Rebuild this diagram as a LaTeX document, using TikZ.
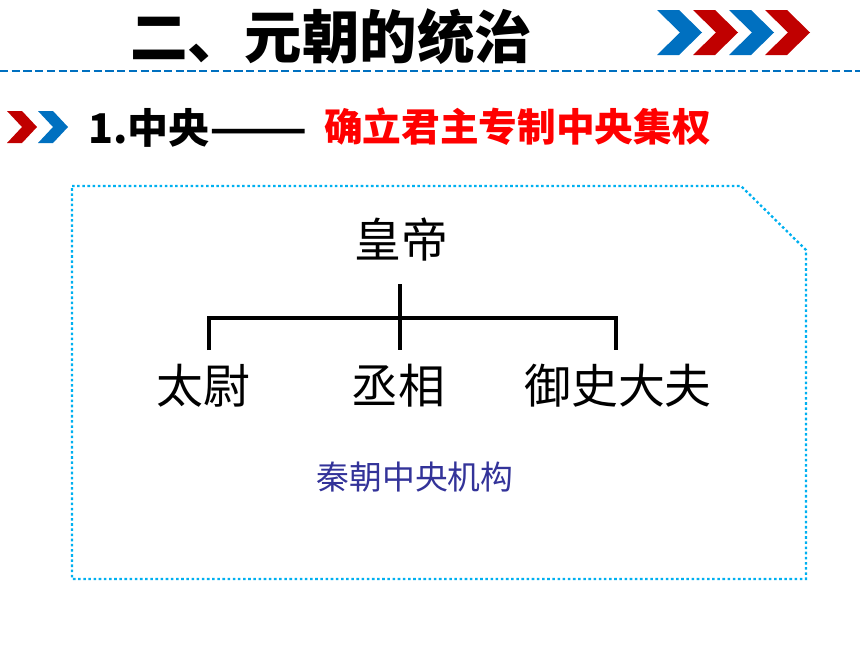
\documentclass[tikz,border=0pt]{standalone}
\usepackage{fontspec}
\setmainfont{Noto Sans CJK SC}
\usepackage{xcolor}
\usepackage{tikz}
\definecolor{chevblue}{RGB}{0,112,192}
\definecolor{chevred}{RGB}{192,0,0}
\definecolor{goalred}{RGB}{255,0,0}
\definecolor{boxcyan}{RGB}{0,176,240}
\definecolor{notecol}{RGB}{51,51,153}
\tikzset{
  headtext/.style={font=\fontsize{49}{53}\selectfont\bfseries,inner sep=0pt},
  subtext/.style={font=\fontsize{35}{40}\selectfont\bfseries,inner sep=0pt,anchor=west},
  office/.style={font=\fontsize{40}{44}\selectfont,inner sep=0pt},
  treeline/.style={line width=2.6pt}
}
\begin{document}
\begin{tikzpicture}[x=0.03cm,y=-0.03cm]
	\useasboundingbox (0,0) rectangle (860,645);
	\node[headtext] (title) at (331,37) {二、元朝的统治};
	\draw[chevblue,line width=2pt,dash pattern=on 7pt off 3pt] (0,71) -- (860,71);
	\foreach \x/\c in {657/chevblue,693/chevred,729/chevblue,765/chevred}
		\fill[\c] (\x,10) -- ++(22,0) -- ++(23,22.5) -- ++(-23,22.5) -- ++(-22,0) -- ++(23,-22.5) -- cycle;
	
	\foreach \x/\c in {7/chevred,38/chevblue}
		\fill[\c] (\x,111) -- ++(15,0) -- ++(15,16) -- ++(-15,16) -- ++(-15,0) -- ++(15,-16) -- cycle;
	\node[subtext] (part) at (88,128) {1.中央\scalebox{1.4}[1]{——}};
	\node[subtext,font=\fontsize{33}{37}\selectfont\bfseries,text=goalred] (goal) at (324,127) {确立君主专制中央集权};
	
	\draw[boxcyan,line width=2pt,dash pattern=on 2.2pt off 2.2pt] (72,186) -- (741,186) -- (806,250) -- (806,579) -- (72,579) -- cycle;
	
	\node[office] (emperor) at (401,240) {皇帝};
	\node[office] (taiwei) at (203,386) {太尉};
	\node[office] (chengxiang) at (398,386) {丞相};
	\node[office] (yushi) at (618,386) {御史大夫};
	\coordinate (top) at (400,284);
	\coordinate (mid) at (400,350);
	\coordinate (left) at (209,318);
	\coordinate (right) at (616,318);
	\coordinate (leftend) at (209,350);
	\coordinate (rightend) at (616,350);
	\draw[treeline] (top) -- (mid);
	\draw[treeline] (leftend) -- (left) -- (right) -- (rightend);
	
	\node[font=\fontsize{28}{31}\selectfont,text=notecol,inner sep=0pt] (note) at (415,477) {秦朝中央机构};
\end{tikzpicture}
\end{document}
